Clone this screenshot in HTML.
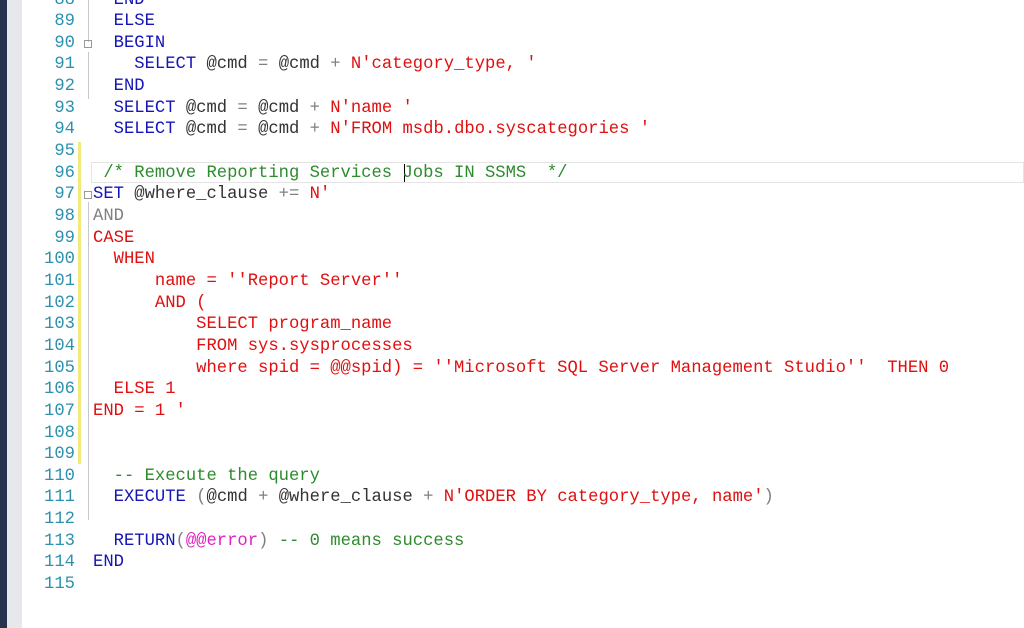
<!DOCTYPE html>
<html><head><meta charset="utf-8"><style>
body{margin:0;width:1024px;height:628px;overflow:hidden;background:#fff;position:relative;font-family:"Liberation Mono",monospace;font-size:17.2px}
.l{position:absolute;left:0;height:21.65px;line-height:21.65px;white-space:pre;width:1024px}
.n{position:absolute;left:30px;width:45px;text-align:right;color:#2b91af}
.c{position:absolute;left:93px;color:#333}
.k{color:#1515b8}.s{color:#e01010}.g{color:#2e8b2e}.o{color:#808080}.m{color:#e020c0}
</style></head><body>
<div style="position:absolute;left:0;top:0;width:7px;height:628px;background:#27324d"></div>
<div style="position:absolute;left:7px;top:0;width:15px;height:628px;background:#e6e8ec"></div>
<div style="position:absolute;left:78px;top:142px;width:3px;height:322px;background:#f1e97a"></div>
<div style="position:absolute;left:88px;top:0;width:1px;height:42px;background:#c8c8c8"></div>
<div style="position:absolute;left:88px;top:52px;width:1px;height:47px;background:#c8c8c8"></div>
<div style="position:absolute;left:88px;top:202px;width:1px;height:318px;background:#c8c8c8"></div>
<div style="position:absolute;left:91px;top:162px;width:933px;height:21px;border:1px solid #e4e4e4;box-sizing:border-box"></div>
<div style="position:absolute;left:404px;top:164px;width:1px;height:18px;background:#000"></div>
<div style="position:absolute;left:84px;top:40px;width:8px;height:8px;border:1px solid #999;box-sizing:border-box;font-size:0"></div>
<div style="position:absolute;left:84px;top:191px;width:8px;height:8px;border:1px solid #999;box-sizing:border-box;font-size:0"></div>

<div class="l" style="top:-10.5px"><span class="n">88</span><span class="c">  <span class="k">END</span></span></div>
<div class="l" style="top:11.15px"><span class="n">89</span><span class="c">  <span class="k">ELSE</span></span></div>
<div class="l" style="top:32.8px"><span class="n">90</span><span class="c">  <span class="k">BEGIN</span></span></div>
<div class="l" style="top:54.45px"><span class="n">91</span><span class="c">    <span class="k">SELECT</span> @cmd <span class="o">=</span> @cmd <span class="o">+</span> <span class="s">N'category_type, '</span></span></div>
<div class="l" style="top:76.1px"><span class="n">92</span><span class="c">  <span class="k">END</span></span></div>
<div class="l" style="top:97.75px"><span class="n">93</span><span class="c">  <span class="k">SELECT</span> @cmd <span class="o">=</span> @cmd <span class="o">+</span> <span class="s">N'name '</span></span></div>
<div class="l" style="top:119.4px"><span class="n">94</span><span class="c">  <span class="k">SELECT</span> @cmd <span class="o">=</span> @cmd <span class="o">+</span> <span class="s">N'FROM msdb.dbo.syscategories '</span></span></div>
<div class="l" style="top:141.05px"><span class="n">95</span></div>
<div class="l" style="top:162.7px"><span class="n">96</span><span class="c"> <span class="g">/* Remove Reporting Services Jobs IN SSMS  */</span></span></div>
<div class="l" style="top:184.35px"><span class="n">97</span><span class="c"><span class="k">SET</span> @where_clause <span class="o">+=</span> <span class="s">N'</span></span></div>
<div class="l" style="top:206px"><span class="n">98</span><span class="c"><span class="o">AND</span></span></div>
<div class="l" style="top:227.65px"><span class="n">99</span><span class="c s">CASE</span></div>
<div class="l" style="top:249.3px"><span class="n">100</span><span class="c s">  WHEN</span></div>
<div class="l" style="top:270.95px"><span class="n">101</span><span class="c s">      name = ''Report Server''</span></div>
<div class="l" style="top:292.6px"><span class="n">102</span><span class="c s">      AND (</span></div>
<div class="l" style="top:314.25px"><span class="n">103</span><span class="c s">          SELECT program_name</span></div>
<div class="l" style="top:335.9px"><span class="n">104</span><span class="c s">          FROM sys.sysprocesses</span></div>
<div class="l" style="top:357.55px"><span class="n">105</span><span class="c s">          where spid = @@spid) = ''Microsoft SQL Server Management Studio''  THEN 0</span></div>
<div class="l" style="top:379.2px"><span class="n">106</span><span class="c s">  ELSE 1</span></div>
<div class="l" style="top:400.85px"><span class="n">107</span><span class="c s">END = 1 '</span></div>
<div class="l" style="top:422.5px"><span class="n">108</span></div>
<div class="l" style="top:444.15px"><span class="n">109</span></div>
<div class="l" style="top:465.8px"><span class="n">110</span><span class="c">  <span class="g">-- Execute the query</span></span></div>
<div class="l" style="top:487.45px"><span class="n">111</span><span class="c">  <span class="k">EXECUTE</span> <span class="o">(</span>@cmd <span class="o">+</span> @where_clause <span class="o">+</span> <span class="s">N'ORDER BY category_type, name'</span><span class="o">)</span></span></div>
<div class="l" style="top:509.1px"><span class="n">112</span></div>
<div class="l" style="top:530.75px"><span class="n">113</span><span class="c">  <span class="k">RETURN</span><span class="o">(</span><span class="m">@@error</span><span class="o">)</span> <span class="g">-- 0 means success</span></span></div>
<div class="l" style="top:552.4px"><span class="n">114</span><span class="c"><span class="k">END</span></span></div>
<div class="l" style="top:574.05px"><span class="n">115</span></div>
</body></html>
